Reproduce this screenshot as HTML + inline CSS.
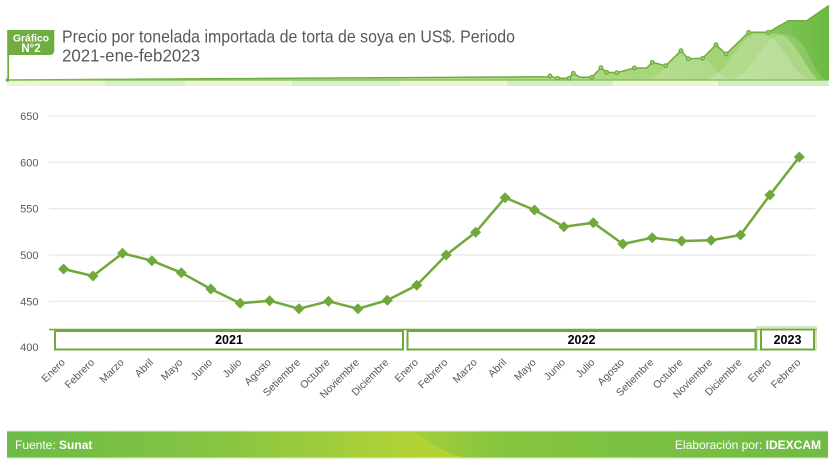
<!DOCTYPE html>
<html>
<head>
<meta charset="utf-8">
<style>
html,body{margin:0;padding:0;background:#fff;}
svg{display:block;}
</style>
</head>
<body>
<svg width="835" height="465" viewBox="0 0 835 465" xmlns="http://www.w3.org/2000/svg" font-family="'Liberation Sans', sans-serif">
<defs>
  <linearGradient id="hdrFill" x1="0" y1="0" x2="1" y2="0">
    <stop offset="0" stop-color="#d6ecbf"/>
    <stop offset="0.55" stop-color="#b4dc8c"/>
    <stop offset="1" stop-color="#9bd06c"/>
  </linearGradient>
  <linearGradient id="hdrDark" x1="0" y1="0" x2="1" y2="0">
    <stop offset="0" stop-color="#86c55a"/>
    <stop offset="1" stop-color="#6bba42"/>
  </linearGradient>
  <linearGradient id="footL" x1="0" y1="0" x2="1" y2="0">
    <stop offset="0" stop-color="#6bbb46"/>
    <stop offset="0.25" stop-color="#86c443"/>
    <stop offset="0.5" stop-color="#b3d335"/>
    <stop offset="1" stop-color="#b8d533"/>
  </linearGradient>
  <linearGradient id="footR" x1="0" y1="0" x2="1" y2="0">
    <stop offset="0" stop-color="#a6cf3b"/>
    <stop offset="0.25" stop-color="#84c43f"/>
    <stop offset="1" stop-color="#6fbb46"/>
  </linearGradient>
</defs>

<!-- Header decoration band -->
<rect x="7" y="80" width="822" height="6" fill="#eef5d6"/>
<rect x="105" y="80" width="80" height="6" fill="#d9eecb"/>
<rect x="292" y="80" width="108" height="6" fill="#d9eecb"/>
<rect x="507" y="80" width="106" height="6" fill="#d4ebc6"/>
<rect x="718" y="80" width="110" height="6" fill="#d4ebc6"/>

<!-- Header area chart -->
<path d="M7,80 L548,76.7 L550,76 L557.7,78.3 L569,78.3 L573.3,73.3 L580,77.3 L591.7,77.3 L601,67.7 L606.7,72.3 L616.7,72.7 L634.3,68 L646.7,68 L652.3,62.3 L665.7,65.7 L681,50.7 L688.3,58.7 L702.7,58.3 L716,44.7 L726,54 L748.7,32.3 L768.3,32.3 L788.3,20.7 L806.7,20.7 L829,5.5 L829,80 Z" fill="url(#hdrFill)"/>
<path d="M768.3,32.3 L788.3,20.7 L806.7,20.7 L829,5.5 L829,80 L818,80 C800,62 795,32 770,33 Z" fill="url(#hdrDark)"/>
<path d="M700,80 C730,80 735,34 760,34 C785,34 790,80 815,80 Z" fill="#ffffff" opacity="0.18"/>
<path d="M725,80 C755,80 760,34 783,34 C810,34 812,80 829,80 Z" fill="#ffffff" opacity="0.15"/>
<path d="M640,80 C665,80 670,52 690,52 C710,52 715,80 735,80 Z" fill="#ffffff" opacity="0.15"/>
<path d="M7,80 L548,76.7 L550,76 L557.7,78.3 L569,78.3 L573.3,73.3 L580,77.3 L591.7,77.3 L601,67.7 L606.7,72.3 L616.7,72.7 L634.3,68 L646.7,68 L652.3,62.3 L665.7,65.7 L681,50.7 L688.3,58.7 L702.7,58.3 L716,44.7 L726,54 L748.7,32.3 L768.3,32.3 L788.3,20.7 L806.7,20.7 L829,5.5" fill="none" stroke="#6fae3e" stroke-width="1.5"/>
<line x1="7" y1="80" x2="829" y2="80" stroke="#7cbf4c" stroke-width="1.2"/>
<g fill="#a9d57d" stroke="#6fae3e" stroke-width="1.3">
  <circle cx="550" cy="76" r="1.8"/><circle cx="557.7" cy="78.3" r="1.8"/><circle cx="569" cy="78.3" r="1.8"/>
  <circle cx="573.3" cy="73.3" r="1.8"/><circle cx="591.7" cy="77.3" r="1.8"/><circle cx="601" cy="67.7" r="1.8"/>
  <circle cx="606.7" cy="72.3" r="1.8"/><circle cx="616.7" cy="72.7" r="1.8"/><circle cx="634.3" cy="68" r="1.8"/>
  <circle cx="652.3" cy="62.3" r="1.8"/><circle cx="665.7" cy="65.7" r="1.8"/><circle cx="681" cy="50.7" r="1.8"/>
  <circle cx="688.3" cy="58.7" r="1.8"/><circle cx="702.7" cy="58.3" r="1.8"/><circle cx="716" cy="44.7" r="1.8"/>
  <circle cx="726" cy="54" r="1.8"/><circle cx="748.7" cy="32.3" r="1.8"/><circle cx="768.3" cy="32.3" r="1.8"/>
</g>

<!-- Badge -->
<rect x="7.3" y="30" width="1.8" height="50" fill="#6fae3e"/>
<path d="M7.3,30 H54.3 V50 Q54.3,55 49.3,55 H7.3 Z" fill="#6fae3e"/>
<circle cx="7.5" cy="80" r="1.8" fill="#6fae3e"/>
<text x="31" y="41.5" font-size="10" font-weight="bold" fill="#ffffff" text-anchor="middle" textLength="36" lengthAdjust="spacingAndGlyphs">Gráfico</text>
<text x="31" y="52" font-size="11.5" font-weight="bold" fill="#ffffff" text-anchor="middle">N°2</text>

<!-- Title -->
<text x="62" y="42.3" font-size="17.5" fill="#595959" textLength="453" lengthAdjust="spacingAndGlyphs">Precio por tonelada importada de torta de soya en US$. Periodo</text>
<text x="62" y="61.7" font-size="17.5" fill="#595959" textLength="138" lengthAdjust="spacingAndGlyphs">2021-ene-feb2023</text>

<!-- Gridlines -->
<g stroke="#e3e3e3" stroke-width="1">
  <line x1="49" y1="116" x2="815" y2="116"/>
  <line x1="49" y1="162.3" x2="815" y2="162.3"/>
  <line x1="49" y1="208.7" x2="815" y2="208.7"/>
  <line x1="49" y1="255" x2="815" y2="255"/>
  <line x1="49" y1="301.3" x2="815" y2="301.3"/>
</g>
<!-- Y labels -->
<g font-size="11" fill="#595959" text-anchor="end">
  <text x="38.5" y="120">650</text>
  <text x="38.5" y="166.3">600</text>
  <text x="38.5" y="212.7">550</text>
  <text x="38.5" y="259">500</text>
  <text x="38.5" y="305.3">450</text>
  <text x="38.5" y="351">400</text>
</g>

<!-- Series -->
<polyline fill="none" stroke="#70a83b" stroke-width="2.5" stroke-linejoin="round"
 points="63.6,269 93,276 122.5,253.3 151.9,260.7 181.3,272.7 210.8,289 240.2,303.3 269.6,300.7 299,308.7 328.5,301.3 357.9,308.7 387.3,300.3 416.8,285.3 446.2,255 475.6,232.3 505.1,197.7 534.5,210 563.9,226.7 593.3,222.7 622.8,244 652.2,237.7 681.6,241 711.1,240.3 740.5,235 769.9,195 799.3,157"/>
<g fill="#70a83b">
  <path d="M63.6,263.5 l5.5,5.5 l-5.5,5.5 l-5.5,-5.5 z"/>
  <path d="M93,270.5 l5.5,5.5 l-5.5,5.5 l-5.5,-5.5 z"/>
  <path d="M122.5,247.8 l5.5,5.5 l-5.5,5.5 l-5.5,-5.5 z"/>
  <path d="M151.9,255.2 l5.5,5.5 l-5.5,5.5 l-5.5,-5.5 z"/>
  <path d="M181.3,267.2 l5.5,5.5 l-5.5,5.5 l-5.5,-5.5 z"/>
  <path d="M210.8,283.5 l5.5,5.5 l-5.5,5.5 l-5.5,-5.5 z"/>
  <path d="M240.2,297.8 l5.5,5.5 l-5.5,5.5 l-5.5,-5.5 z"/>
  <path d="M269.6,295.2 l5.5,5.5 l-5.5,5.5 l-5.5,-5.5 z"/>
  <path d="M299,303.2 l5.5,5.5 l-5.5,5.5 l-5.5,-5.5 z"/>
  <path d="M328.5,295.8 l5.5,5.5 l-5.5,5.5 l-5.5,-5.5 z"/>
  <path d="M357.9,303.2 l5.5,5.5 l-5.5,5.5 l-5.5,-5.5 z"/>
  <path d="M387.3,294.8 l5.5,5.5 l-5.5,5.5 l-5.5,-5.5 z"/>
  <path d="M416.8,279.8 l5.5,5.5 l-5.5,5.5 l-5.5,-5.5 z"/>
  <path d="M446.2,249.5 l5.5,5.5 l-5.5,5.5 l-5.5,-5.5 z"/>
  <path d="M475.6,226.8 l5.5,5.5 l-5.5,5.5 l-5.5,-5.5 z"/>
  <path d="M505.1,192.2 l5.5,5.5 l-5.5,5.5 l-5.5,-5.5 z"/>
  <path d="M534.5,204.5 l5.5,5.5 l-5.5,5.5 l-5.5,-5.5 z"/>
  <path d="M563.9,221.2 l5.5,5.5 l-5.5,5.5 l-5.5,-5.5 z"/>
  <path d="M593.3,217.2 l5.5,5.5 l-5.5,5.5 l-5.5,-5.5 z"/>
  <path d="M622.8,238.5 l5.5,5.5 l-5.5,5.5 l-5.5,-5.5 z"/>
  <path d="M652.2,232.2 l5.5,5.5 l-5.5,5.5 l-5.5,-5.5 z"/>
  <path d="M681.6,235.5 l5.5,5.5 l-5.5,5.5 l-5.5,-5.5 z"/>
  <path d="M711.1,234.8 l5.5,5.5 l-5.5,5.5 l-5.5,-5.5 z"/>
  <path d="M740.5,229.5 l5.5,5.5 l-5.5,5.5 l-5.5,-5.5 z"/>
  <path d="M769.9,189.5 l5.5,5.5 l-5.5,5.5 l-5.5,-5.5 z"/>
  <path d="M799.3,151.5 l5.5,5.5 l-5.5,5.5 l-5.5,-5.5 z"/>
</g>

<!-- Year table -->
<line x1="49" y1="329.5" x2="817" y2="329.5" stroke="#70a83b" stroke-width="1.5"/>
<rect x="55" y="331" width="348" height="18.5" fill="#fff" stroke="#70a83b" stroke-width="2"/>
<rect x="407.5" y="331" width="348" height="18.5" fill="#fff" stroke="#70a83b" stroke-width="2"/>
<rect x="757" y="327" width="59" height="23" fill="none" stroke="#a9cf86" stroke-width="1"/>
<rect x="761" y="329.5" width="53" height="20" fill="#fff" stroke="#70a83b" stroke-width="2"/>
<g font-size="12.5" font-weight="bold" fill="#000" text-anchor="middle">
  <text x="229" y="344">2021</text>
  <text x="581.5" y="344">2022</text>
  <text x="787.5" y="344">2023</text>
</g>

<!-- X labels -->
<g font-size="10.5" fill="#595959" text-anchor="end">
  <text transform="translate(65.6,363) rotate(-45)">Enero</text>
  <text transform="translate(95,363) rotate(-45)">Febrero</text>
  <text transform="translate(124.5,363) rotate(-45)">Marzo</text>
  <text transform="translate(153.9,363) rotate(-45)">Abril</text>
  <text transform="translate(183.3,363) rotate(-45)">Mayo</text>
  <text transform="translate(212.8,363) rotate(-45)">Junio</text>
  <text transform="translate(242.2,363) rotate(-45)">Julio</text>
  <text transform="translate(271.6,363) rotate(-45)">Agosto</text>
  <text transform="translate(301,363) rotate(-45)">Setiembre</text>
  <text transform="translate(330.5,363) rotate(-45)">Octubre</text>
  <text transform="translate(359.9,363) rotate(-45)">Noviembre</text>
  <text transform="translate(389.3,363) rotate(-45)">Diciembre</text>
  <text transform="translate(418.8,363) rotate(-45)">Enero</text>
  <text transform="translate(448.2,363) rotate(-45)">Febrero</text>
  <text transform="translate(477.6,363) rotate(-45)">Marzo</text>
  <text transform="translate(507.1,363) rotate(-45)">Abril</text>
  <text transform="translate(536.5,363) rotate(-45)">Mayo</text>
  <text transform="translate(565.9,363) rotate(-45)">Junio</text>
  <text transform="translate(595.3,363) rotate(-45)">Julio</text>
  <text transform="translate(624.8,363) rotate(-45)">Agosto</text>
  <text transform="translate(654.2,363) rotate(-45)">Setiembre</text>
  <text transform="translate(683.6,363) rotate(-45)">Octubre</text>
  <text transform="translate(713.1,363) rotate(-45)">Noviembre</text>
  <text transform="translate(742.5,363) rotate(-45)">Diciembre</text>
  <text transform="translate(771.9,363) rotate(-45)">Enero</text>
  <text transform="translate(801.3,363) rotate(-45)">Febrero</text>
</g>

<!-- Footer -->
<rect x="7" y="430.5" width="821" height="1.2" fill="#d9ecc8"/>
<rect x="7" y="431.5" width="821" height="26" fill="url(#footL)"/>
<path d="M405,431.5 C425,431.5 440,457.5 470,457.5 L828,457.5 L828,431.5 Z" fill="url(#footR)"/>
<rect x="7" y="457.5" width="821" height="1.2" fill="#d9ecc8"/>
<text x="15" y="449" font-size="12" fill="#ffffff">Fuente: <tspan font-weight="bold">Sunat</tspan></text>
<text x="821" y="449" font-size="12" fill="#ffffff" text-anchor="end">Elaboración por:  <tspan font-weight="bold">IDEXCAM</tspan></text>
</svg>
</body>
</html>
